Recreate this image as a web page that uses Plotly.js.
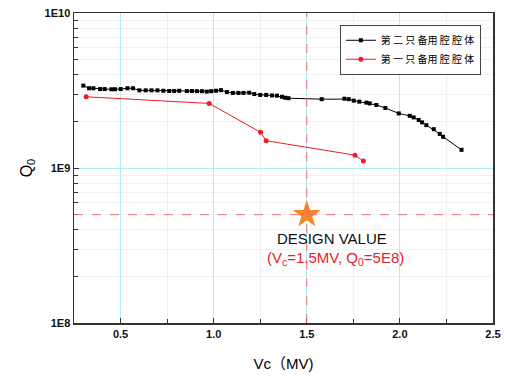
<!DOCTYPE html>
<html>
<head>
<meta charset="utf-8">
<script src="https://cdn.plot.ly/plotly-3.0.1.min.js"></script>
<style>html,body{margin:0;padding:0;background:#fff;}#chart{width:507px;height:376px;}</style>
</head>
<body>
<div id="chart"></div>
<script>
const seriesNames = ["第\u00a0二\u00a0只\u00a0备用\u00a0腔\u00a0腔\u00a0体", "第\u00a0一\u00a0只\u00a0备用\u00a0腔\u00a0腔\u00a0体"];
const blackVc = [0.300,0.331,0.354,0.390,0.415,0.451,0.470,0.501,0.537,0.567,0.601,0.635,0.666,0.698,0.730,0.761,0.788,0.815,0.856,0.883,0.910,0.937,0.963,0.987,1.013,1.039,1.071,1.103,1.133,1.160,1.191,1.218,1.250,1.282,1.313,1.340,1.367,1.384,1.402,1.580,1.702,1.725,1.752,1.782,1.820,1.838,1.874,1.922,1.994,2.053,2.074,2.101,2.119,2.142,2.182,2.214,2.232,2.331];
const blackQ = [3.40e9,3.27e9,3.27e9,3.23e9,3.23e9,3.22e9,3.22e9,3.23e9,3.27e9,3.27e9,3.17e9,3.17e9,3.17e9,3.17e9,3.15e9,3.14e9,3.14e9,3.15e9,3.14e9,3.14e9,3.13e9,3.13e9,3.11e9,3.13e9,3.15e9,3.18e9,3.09e9,3.05e9,3.05e9,3.05e9,3.06e9,3.00e9,2.96e9,2.96e9,2.94e9,2.93e9,2.88e9,2.84e9,2.82e9,2.78e9,2.80e9,2.78e9,2.72e9,2.68e9,2.64e9,2.61e9,2.55e9,2.44e9,2.25e9,2.17e9,2.12e9,2.04e9,1.97e9,1.89e9,1.78e9,1.66e9,1.59e9,1.31e9];
const redVc = [0.315,0.976,1.252,1.282,1.759,1.804];
const redQ = [2.88e9,2.61e9,1.70e9,1.50e9,1.21e9,1.11e9];
const designVc = [1.5];
const designQ = [5e8];
const xTickVals = [0.5,1.0,1.5,2.0,2.5];
const xTickText = ["0.5","1.0","1.5","2.0","2.5"];
const yTickVals = [1e8,1e9,1e10];
const yTickText = ["1E8","1E9","1E10"];

const fontFam = "Arial, 'Liberation Sans', 'Noto Sans CJK SC', sans-serif";
const traces = [
  {x: blackVc, y: blackQ, name: seriesNames[0], mode: 'lines+markers',
   line: {color: '#000000', width: 1}, marker: {symbol: 'square', size: 4, color: '#000000'}},
  {x: redVc, y: redQ, name: seriesNames[1], mode: 'lines+markers',
   line: {color: '#ee1c25', width: 1}, marker: {symbol: 'circle', size: 5, color: '#ee1c25'}},
  {x: designVc, y: designQ, mode: 'markers', showlegend: false,
   marker: {symbol: 'star', size: 21, color: '#f7861f'}}
];
const layout = {
  width: 507, height: 376,
  margin: {l: 74, r: 14, t: 13, b: 53},
  paper_bgcolor: '#ffffff', plot_bgcolor: '#ffffff',
  font: {family: fontFam, color: '#000'},
  showlegend: true,
  legend: {x: 0.971, xanchor: 'right', y: 0.962, yanchor: 'top',
    bgcolor: '#ffffff', bordercolor: '#444', borderwidth: 1,
    font: {size: 10, family: "'Noto Sans CJK SC', sans-serif"}, tracegroupgap: 0, itemwidth: 30},
  xaxis: {range: [0.25, 2.5], tickvals: xTickVals, ticktext: xTickText,
    ticks: 'inside', ticklen: 5, tickcolor: '#333', showline: true, linecolor: '#333', linewidth: 1.5, mirror: true,
    showgrid: true, gridcolor: '#aef0f0', gridwidth: 1, zeroline: false,
    tickfont: {size: 11, weight: 'bold', color: '#111'},
    minor: {dtick: 0.25, tick0: 0.25, ticks: 'inside', ticklen: 4, tickcolor: '#333', showgrid: true, gridcolor: '#f0f0f0'},
    title: {text: 'Vc（MV)', font: {size: 15}, standoff: 20}},
  yaxis: {type: 'log', range: [8, 10], tickvals: yTickVals, ticktext: yTickText,
    ticks: 'inside', ticklen: 5, tickcolor: '#333', showline: true, linecolor: '#333', linewidth: 1.5, mirror: true,
    showgrid: true, gridcolor: '#aef0f0', gridwidth: 1, zeroline: false,
    tickfont: {size: 11, weight: 'bold', color: '#111'},
    minor: {dtick: 'D1', ticks: 'inside', ticklen: 4, tickcolor: '#333', showgrid: true, gridcolor: '#f0f0f0'},
    title: {text: 'Q<sub>0</sub>', font: {size: 16}, standoff: 8}},
  shapes: [
    {type: 'line', xref: 'x', yref: 'paper', x0: designVc[0], x1: designVc[0], y0: 0, y1: 1,
     line: {color: '#f07078', width: 1, dash: 'dash'}, layer: 'above'},
    {type: 'line', xref: 'paper', yref: 'y', x0: 0, x1: 1, y0: designQ[0], y1: designQ[0],
     line: {color: '#f07078', width: 1, dash: 'dash'}, layer: 'above'}
  ],
  annotations: [
    {x: designVc[0], y: Math.log10(designQ[0]), xref: 'x', yref: 'y', text: 'DESIGN VALUE',
     showarrow: false, xshift: 25, yshift: -24, font: {size: 15, color: '#111'}},
    {x: designVc[0], y: Math.log10(designQ[0]), xref: 'x', yref: 'y',
     text: '(V<sub>c</sub>=1.5MV, Q<sub>0</sub>=5E8)',
     showarrow: false, xshift: 29, yshift: -44, font: {size: 15, color: '#e8202a'}}
  ]
};
Plotly.newPlot('chart', traces, layout, {displayModeBar: false, staticPlot: true});
</script>
</body>
</html>
